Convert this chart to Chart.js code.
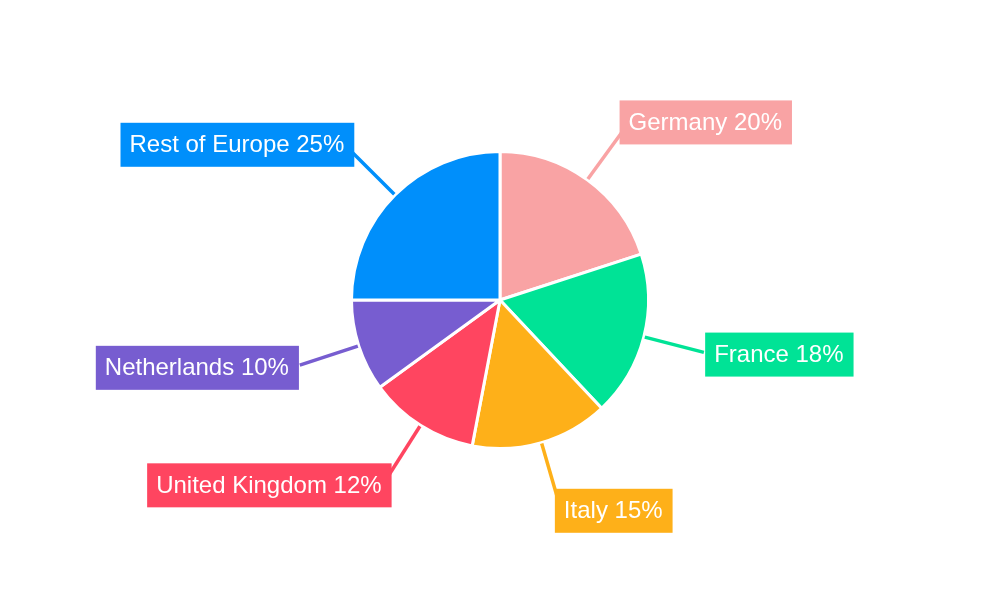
<!DOCTYPE html>
<html>
<head>
<meta charset="utf-8">
<script src="https://cdn.jsdelivr.net/npm/chart.js@4.4.1/dist/chart.umd.min.js"></script>
<style>
html,body{margin:0;padding:0;background:#fff;}
#wrap{width:1000px;height:600px;position:relative;}
</style>
</head>
<body>
<div id="wrap"><canvas id="c" width="1000" height="600"></canvas></div>
<script>
const categories = ["Germany", "France", "Italy", "United Kingdom", "Netherlands", "Rest of Europe"];
const shares = [20, 18, 15, 12, 10, 25];
const colors = ["#F9A3A4", "#00E396", "#FEB019", "#FF4560", "#775DD0", "#008FFB"];

const calloutPlugin = {
  id: 'callouts',
  afterDatasetsDraw(chart) {
    const ctx = chart.ctx;
    const meta = chart.getDatasetMeta(0);
    ctx.save();
    ctx.font = '24px "Liberation Sans", Arial, sans-serif';
    ctx.textBaseline = 'middle';
    meta.data.forEach((arc, i) => {
      const p = arc.getProps(['x', 'y', 'startAngle', 'endAngle', 'outerRadius'], true);
      const mid = (p.startAngle + p.endAngle) / 2;
      const c = Math.cos(mid), s = Math.sin(mid);
      const R = p.outerRadius;
      // leader line
      ctx.strokeStyle = colors[i];
      ctx.lineWidth = 3.5;
      ctx.beginPath();
      ctx.moveTo(p.x + c * (R + 1), p.y + s * (R + 1));
      ctx.lineTo(p.x + c * (R + 62), p.y + s * (R + 62));
      ctx.stroke();
      // label box
      const text = categories[i] + ' ' + shares[i] + '%';
      const tw = ctx.measureText(text).width;
      const w = tw + 19, h = 44;
      const ex = p.x + c * (R + 42 + 22 * Math.abs(c));
      const cyBox = p.y + s * (R + 71);
      const bx = c >= 0 ? ex : ex - w;
      const by = cyBox - h / 2;
      ctx.fillStyle = colors[i];
      ctx.fillRect(bx, by, w, h);
      ctx.fillStyle = '#ffffff';
      ctx.textAlign = 'left';
      ctx.fillText(text, bx + 9, cyBox + 1);
    });
    ctx.restore();
  }
};

new Chart(document.getElementById('c'), {
  type: 'pie',
  data: {
    labels: categories,
    datasets: [{
      data: shares,
      backgroundColor: colors,
      borderColor: '#ffffff',
      borderWidth: 3
    }]
  },
  options: {
    responsive: false,
    animation: false,
    layout: { padding: { top: 150, bottom: 150, left: 0, right: 0 } },
    plugins: {
      legend: { display: false },
      tooltip: { enabled: false }
    }
  },
  plugins: [calloutPlugin]
});
</script>
</body>
</html>
